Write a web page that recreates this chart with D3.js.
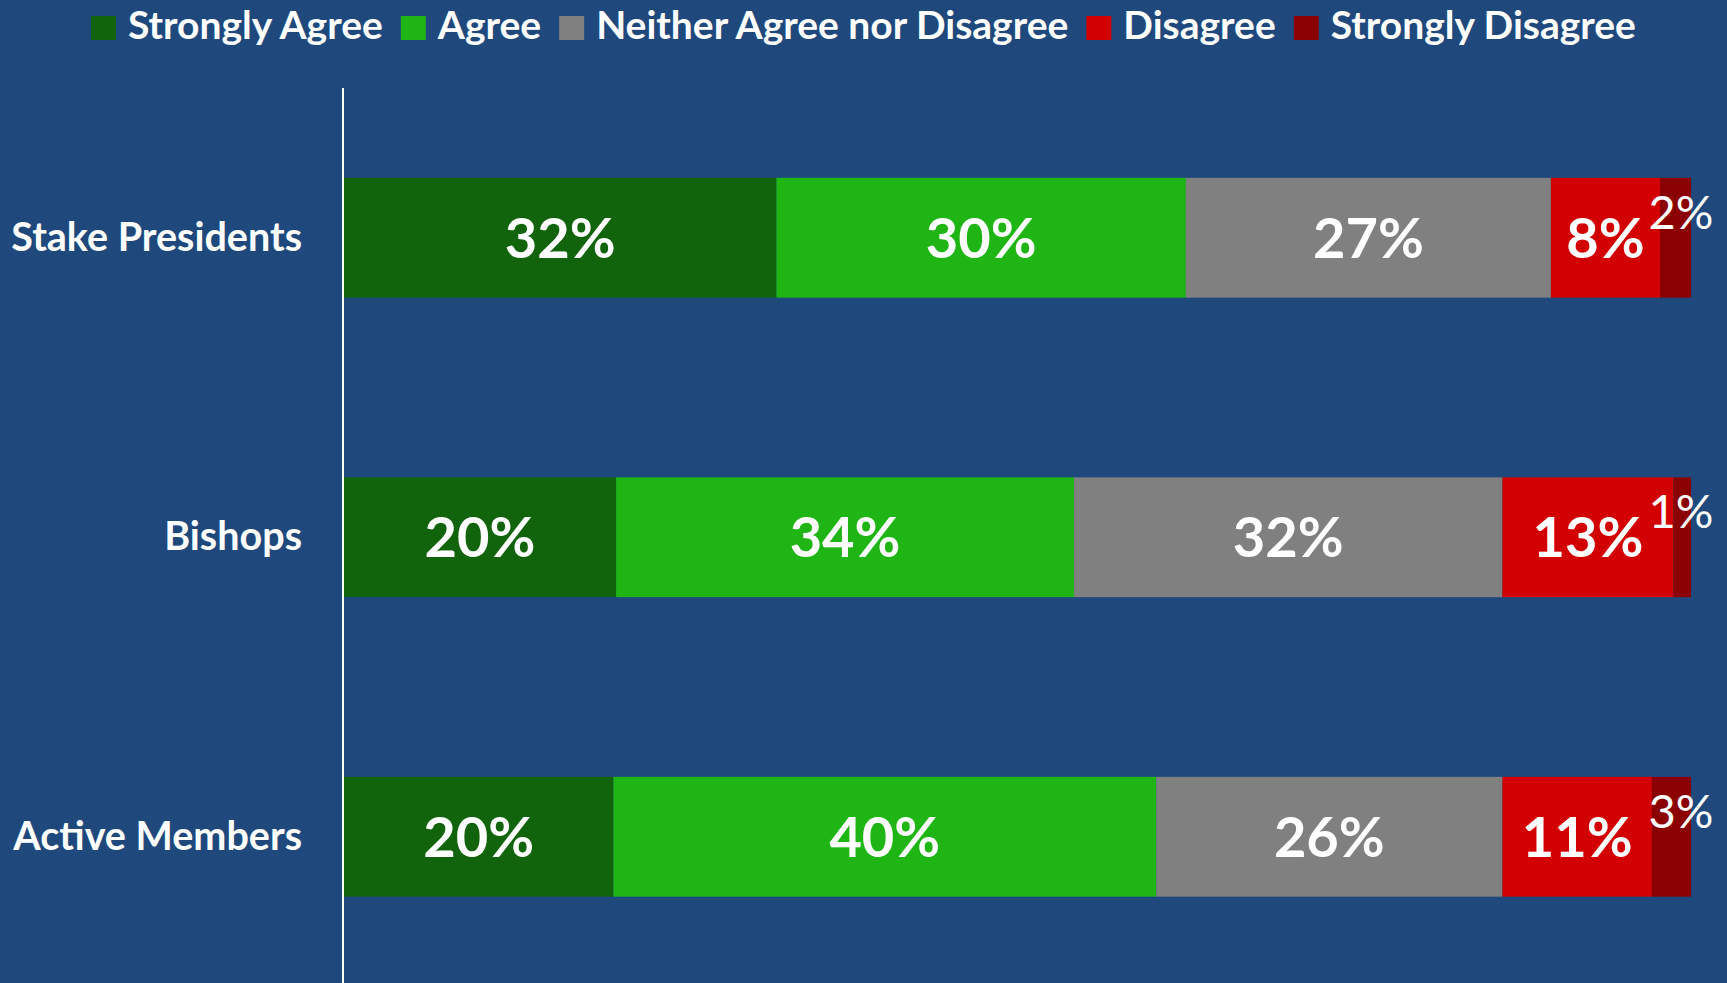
<!DOCTYPE html>
<html>
<head>
<meta charset="utf-8">
<script src="https://cdn.jsdelivr.net/npm/d3@7"></script>
<style>
  body { margin: 0; background: #1F497D; }
  svg { display: block; }
  text { font-family: Lato, "Open Sans", sans-serif; fill: #ffffff; }
</style>
</head>
<body>
<svg id="canvas"></svg>
<script>
let categories = ["Stake Presidents", "Bishops", "Active Members"]
let responses = ["Strongly Agree", "Agree", "Neither Agree nor Disagree", "Disagree", "Strongly Disagree"]
let colors = ["#11640B", "#1EB515", "#808080", "#D20000", "#8B0000"]

// share of answers per group, in %
let stronglyAgree = [32.1, 20.2, 20.0]
let agree = [30.4, 34.0, 40.3]
let neither = [27.1, 31.8, 25.7]
let disagree = [8.1, 12.7, 11.1]
let stronglyDisagree = [2.3, 1.3, 2.9]

let width = 1727
let height = 983

let canvas = d3.select("#canvas")
    .attr("width", width)
    .attr("height", height)

let series = [stronglyAgree, agree, neither, disagree, stronglyDisagree]
let rows = categories.map((c, i) => {
    let row = {category: c}
    responses.forEach((r, j) => { row[r] = series[j][i] })
    return row
})

let stacked = d3.stack().keys(responses)(rows)

let xScale = d3.scaleLinear()
    .domain([0, 100])
    .range([344, 1691])

let yScale = d3.scaleBand()
    .domain(categories)
    .range([88, 986.5])
    .paddingInner(0.6)
    .paddingOuter(0.3)

let colorScale = d3.scaleOrdinal()
    .domain(responses)
    .range(colors)

// bars
let layers = canvas.selectAll("g.layer")
    .data(stacked)
    .enter()
    .append("g")
    .attr("class", "layer")
    .attr("fill", s => colorScale(s.key))

layers.selectAll("rect")
    .data(s => s)
    .enter()
    .append("rect")
    .attr("x", d => xScale(d[0]))
    .attr("width", d => xScale(d[1]) - xScale(d[0]))
    .attr("y", d => yScale(d.data.category))
    .attr("height", yScale.bandwidth())

// value labels
let last = responses[responses.length - 1]
layers.selectAll("text")
    .data(s => s.map(d => ({d: d, key: s.key})))
    .enter()
    .append("text")
    .attr("text-anchor", "middle")
    .attr("x", i => i.key === last ? xScale(i.d[1]) - 10 : (xScale(i.d[0]) + xScale(i.d[1])) / 2)
    .attr("y", i => {
        let mid = yScale(i.d.data.category) + yScale.bandwidth() / 2
        return i.key === last ? mid - 9 : mid + 20
    })
    .style("font-size", i => i.key === last ? "47px" : "56px")
    .style("font-weight", i => i.key === last ? "normal" : "bold")
    .text(i => Math.round(i.d[1] - i.d[0]) + "%")

// y axis
let yAxis = d3.axisLeft(yScale).tickSize(0).tickPadding(41)
let yAxisG = canvas.append("g")
    .attr("id", "y-axis")
    .attr("transform", "translate(343, 0)")
    .call(yAxis)

yAxisG.select(".domain").remove()
yAxisG.selectAll("text")
    .attr("dy", "0.33em")
    .style("font-size", "39.5px")
    .style("font-weight", "bold")
    .attr("fill", "#ffffff")

canvas.append("line")
    .attr("x1", 343)
    .attr("x2", 343)
    .attr("y1", 88)
    .attr("y2", height)
    .attr("stroke", "#ffffff")
    .attr("stroke-width", 2)

// legend
let legend = canvas.append("g").attr("id", "legend")
let cursor = 0
responses.forEach(r => {
    let item = legend.append("g").attr("transform", "translate(" + cursor + ",0)")
    item.append("rect")
        .attr("x", 0)
        .attr("y", 16)
        .attr("width", 25)
        .attr("height", 24)
        .attr("fill", colorScale(r))
    let t = item.append("text")
        .attr("x", 37)
        .attr("y", 39)
        .style("font-size", "39px")
        .style("font-weight", "bold")
        .text(r)
    cursor += 37 + t.node().getComputedTextLength() + 18
})
let legendWidth = cursor - 18
legend.attr("transform", "translate(" + ((width - legendWidth) / 2) + ",0)")
</script>
</body>
</html>
